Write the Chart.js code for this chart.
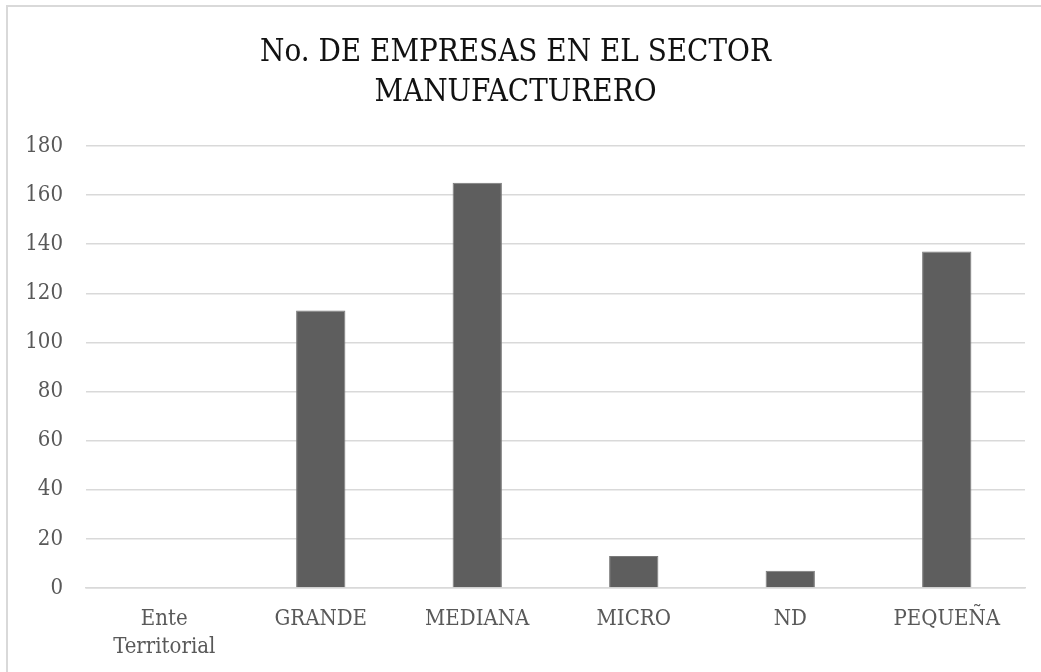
<!DOCTYPE html>
<html lang="es">
<head>
<meta charset="utf-8">
<title>No. de empresas en el sector manufacturero</title>
<script src="https://cdn.jsdelivr.net/npm/chart.js@4"></script>
<style>
    html, body { margin: 0; padding: 0; background: #fff; overflow: hidden; }
    #marco {
        position: absolute; left: 6px; top: 5px;
        width: 1100px; height: 700px;
        border-left: 2px solid #d9d9d9; border-top: 2px solid #d9d9d9;
    }
    #caja { position: absolute; left: 0; top: 0; width: 1041px; height: 672px; }
</style>
</head>
<body>
<div id="marco"></div>
<div id="caja"><canvas id="grafico"></canvas></div>
<script>
// Datos del gráfico
const categorias = [['Ente', 'Territorial'], 'GRANDE', 'MEDIANA', 'MICRO', 'ND', 'PEQUEÑA'];
const empresas = [0, 113, 165, 13, 7, 137];
const ejeYMax = 180;
const ejeYPaso = 20;
const titulo = ['No. DE EMPRESAS EN EL SECTOR', 'MANUFACTURERO'];

const fuente = "'DejaVu Serif Condensed', 'DejaVu Serif', serif";
const ctx = document.getElementById('grafico').getContext('2d');

new Chart(ctx, {
    type: 'bar',
    data: {
        labels: categorias,
        datasets: [{
            label: 'Empresas',
            data: empresas,
            backgroundColor: '#5e5e5e',
            borderColor: '#7a7a7a',
            borderWidth: 1,
            barPercentage: 0.315,
            categoryPercentage: 1
        }]
    },
    options: {
        responsive: true,
        maintainAspectRatio: false,
        animation: false,
        layout: { padding: { left: 6, right: 16, top: 0, bottom: 0 } },
        plugins: {
            legend: { display: false },
            tooltip: { enabled: false },
            title: {
                display: true,
                text: titulo,
                color: '#111111',
                font: { family: fuente, size: 31, weight: 'normal', lineHeight: 1.29 },
                padding: { top: 33, bottom: 33 }
            }
        },
        scales: {
            x: {
                grid: { display: false },
                border: { color: '#d9d9d9', width: 1.5 },
                ticks: {
                    color: '#595959',
                    font: { family: fuente, size: 22, lineHeight: 1.27 },
                    padding: 9,
                    maxRotation: 0,
                    autoSkip: false
                },
                afterFit: s => { s.height = 84; }
            },
            y: {
                min: 0,
                max: ejeYMax,
                border: { display: false },
                grid: { color: '#d9d9d9', lineWidth: 1.5, drawTicks: false },
                ticks: {
                    stepSize: ejeYPaso,
                    color: '#595959',
                    font: { family: fuente, size: 22 },
                    padding: 23
                },
                afterFit: s => { s.width = 80; }
            }
        }
    }
});
</script>
</body>
</html>
